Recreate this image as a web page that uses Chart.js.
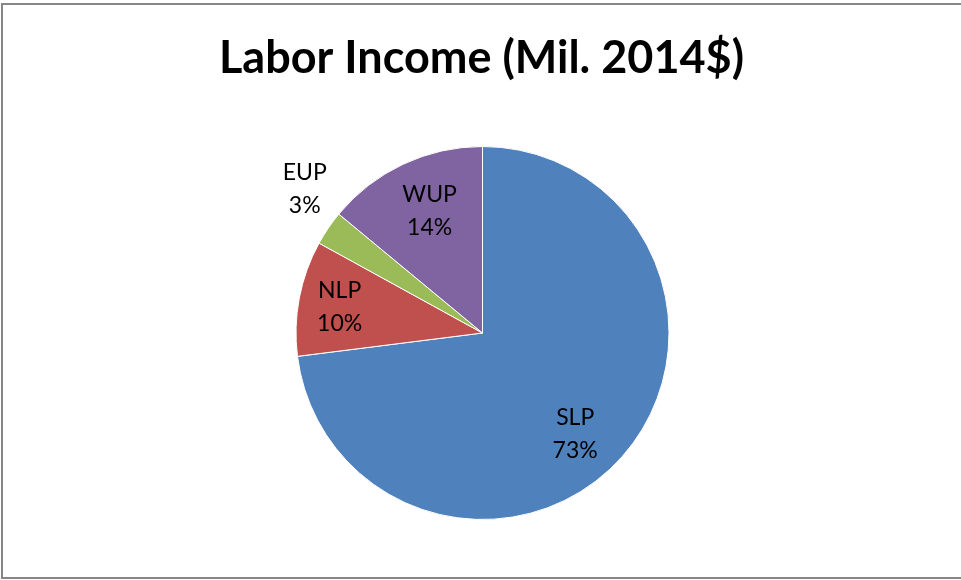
<!DOCTYPE html>
<html>
<head>
<meta charset="utf-8">
<title>Labor Income</title>
<script src="https://cdn.jsdelivr.net/npm/chart.js@4/dist/chart.umd.min.js"></script>
<style>
  html, body { margin: 0; padding: 0; background: #fff; }
  #wrap { width: 961px; height: 580px; }
</style>
</head>
<body>
<div id="wrap"><canvas id="pie" width="961" height="580"></canvas></div>
<script>
// Labor income share by region
const regions = ['SLP', 'NLP', 'EUP', 'WUP'];
const shares = [73, 10, 3, 14];
const sliceColors = ['#4F81BD', '#C0504D', '#9BBB59', '#8064A2'];
const chartTitle = 'Labor Income (Mil. 2014$)';

// frame + title, drawn like the spreadsheet chart box (right edge is cut off)
const frame = {
  id: 'frame',
  beforeDraw(chart) {
    const ctx = chart.ctx;
    ctx.save();
    ctx.fillStyle = '#fff';
    ctx.fillRect(0, 0, chart.width, chart.height);
    ctx.strokeStyle = '#878787';
    ctx.lineWidth = 2;
    ctx.beginPath();
    ctx.moveTo(chart.width, 4);
    ctx.lineTo(2, 4);
    ctx.lineTo(2, 578);
    ctx.lineTo(chart.width, 578);
    ctx.stroke();
    ctx.fillStyle = '#000';
    ctx.font = 'bold 45px Lato';
    ctx.textAlign = 'center';
    ctx.textBaseline = 'alphabetic';
    ctx.fillText(chartTitle, 481.5, 73);
    ctx.restore();
  }
};

// category name + percent on each slice
const sliceLabels = {
  id: 'sliceLabels',
  afterDatasetsDraw(chart, args, opts) {
    const ctx = chart.ctx;
    const meta = chart.getDatasetMeta(0);
    const data = chart.data.datasets[0].data;
    const total = data.reduce((a, b) => a + b, 0);
    ctx.save();
    ctx.fillStyle = '#000';
    ctx.font = '23px Lato';
    ctx.textAlign = 'center';
    ctx.textBaseline = 'alphabetic';
    meta.data.forEach((arc, i) => {
      const p = arc.getProps(['x', 'y', 'startAngle', 'endAngle', 'outerRadius'], true);
      const place = opts.place[i];
      const mid = (p.startAngle + p.endAngle) / 2 + place.turn * Math.PI / 180;
      const r = p.outerRadius * place.r;
      const cx = p.x + Math.cos(mid) * r;
      const cy = p.y + Math.sin(mid) * r;
      const pct = Math.round(data[i] / total * 100) + '%';
      ctx.fillText(chart.data.labels[i], cx, cy - 8);
      ctx.fillText(pct, cx, cy + 25);
    });
    ctx.restore();
  }
};

const ctx = document.getElementById('pie').getContext('2d');
new Chart(ctx, {
  type: 'pie',
  data: {
    labels: regions,
    datasets: [{
      data: shares,
      backgroundColor: sliceColors,
      borderColor: '#fff',
      borderWidth: 1
    }]
  },
  options: {
    responsive: false,
    animation: false,
    events: [],
    layout: { padding: { top: 146, bottom: 60, left: 100, right: 96 } },
    plugins: {
      legend: { display: false },
      title: { display: false },
      tooltip: { enabled: false },
      sliceLabels: {
        place: [
          { r: 0.73, turn: 5.7 },
          { r: 0.78, turn: 0 },
          { r: 1.23, turn: 5 },
          { r: 0.72, turn: 2 }
        ]
      }
    }
  },
  plugins: [frame, sliceLabels]
});
</script>
</body>
</html>
